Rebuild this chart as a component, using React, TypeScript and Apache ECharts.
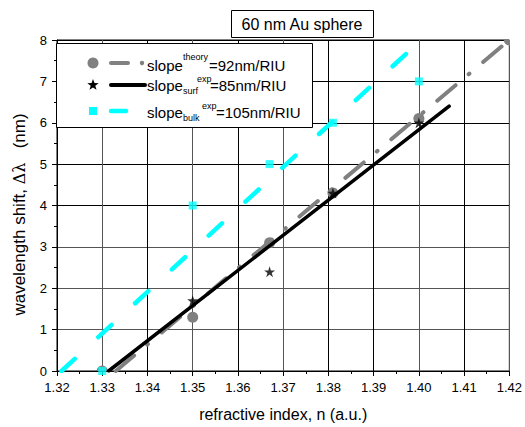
import React, { useEffect, useRef } from "react";
import * as echarts from "echarts";

// ---- data ----
const xTicks = ["1.32", "1.33", "1.34", "1.35", "1.36", "1.37", "1.38", "1.39", "1.40", "1.41", "1.42"];
const theoryN = [1.33, 1.35, 1.367, 1.381, 1.4, 1.42];
const theoryShift = [0, 1.3, 3.1, 4.3, 6.1, 8.0];
const surfN = [1.35, 1.367, 1.381, 1.4];
const surfShift = [1.7, 2.4, 4.3, 6.0];
const bulkN = [1.33, 1.35, 1.367, 1.381, 1.4];
const bulkShift = [0, 4.0, 5.0, 6.0, 7.0];
const theoryFitN = [1.333, 1.42];
const theoryFitShift = [0, 8.0];
const surfFitN = [1.3314, 1.4067];
const surfFitShift = [0, 6.4];
const bulkFitN = [1.321, 1.4005];
const bulkFitShift = [0, 8.0];

const FONT = '"Liberation Sans", Arial, sans-serif';
const GRAY = "#808080";
const CYAN = "#00FFFF";
const STAR = "path://M50,0 L61.2,34.5 L97.6,34.5 L68.2,55.9 L79.4,90.5 L50,69.1 L20.6,90.5 L31.8,55.9 L2.4,34.5 L38.8,34.5 Z";

const zip = (a: number[], b: number[]) => a.map((v, i) => [v, b[i]]);

function starPoints(cx: number, cy: number, r: number): number[][] {
  const pts: number[][] = [];
  for (let i = 0; i < 10; i++) {
    const rr = i % 2 === 0 ? r : r * 0.4;
    const a = -Math.PI / 2 + (i * Math.PI) / 5;
    pts.push([cx + rr * Math.cos(a), cy + rr * Math.sin(a)]);
  }
  return pts;
}

export default function App() {
  const ref = useRef<HTMLDivElement>(null);
  useEffect(() => {
    if (!ref.current) return;
    const chart = echarts.init(ref.current, null, { renderer: "svg" });
    const G = "#555";
    const xGridColors = ["#000", G, "#000", G, "#000", G, "#000", "#000", G, "#000", G];
    const yGridColors = ["#000", G, G, G, "#000", "#000", "#000", "#000", "#000"];
    const txt = (text: string, x: number, y: number, size: number) => ({
      type: "text",
      x,
      y,
      z: 102,
      style: {
        text,
        fill: "#000",
        font: `${size}px ${FONT}`,
        textAlign: "left",
        verticalAlign: "middle",
        textVerticalAlign: "middle",
      },
    });
    const option: any = {
      animation: false,
      backgroundColor: "#fff",
      grid: { left: 57, right: 14, top: 40, bottom: 52, show: true, borderColor: "#000", borderWidth: 1, backgroundColor: "transparent" },
      xAxis: {
        type: "value",
        min: 1.32,
        max: 1.42,
        interval: 0.01,
        name: "refractive index, n (a.u.)",
        nameLocation: "middle",
        nameGap: 35,
        nameTextStyle: { fontFamily: FONT, fontSize: 16, color: "#000" },
        axisLine: { show: true, lineStyle: { color: "#000", width: 1 } },
        axisTick: { show: true, length: 5, lineStyle: { color: "#000" } },
        minorTick: { show: true, splitNumber: 2, length: 3, lineStyle: { color: "#000" } },
        axisLabel: {
          fontFamily: FONT,
          fontSize: 13,
          color: "#000",
          margin: 10,
          formatter: (v: number) => xTicks[Math.round((v - 1.32) / 0.01)] ?? v.toFixed(2),
        },
        splitLine: { show: true, lineStyle: { color: xGridColors, width: 1 } },
      },
      yAxis: {
        type: "value",
        min: 0,
        max: 8,
        interval: 1,
        name: "wavelength shift, {g|Δλ}   (nm)",
        nameLocation: "middle",
        nameGap: 29,
        nameTextStyle: {
          fontFamily: FONT,
          fontSize: 17,
          color: "#000",
          padding: [0, 18, 0, 0],
          rich: { g: { fontFamily: '"DejaVu Serif", serif', fontSize: 16, color: "#000" } },
        },
        axisLine: { show: true, lineStyle: { color: "#000", width: 1 } },
        axisTick: { show: true, length: 5, lineStyle: { color: "#000" } },
        minorTick: { show: true, splitNumber: 2, length: 3, lineStyle: { color: "#000" } },
        axisLabel: { fontFamily: FONT, fontSize: 13, color: "#000", margin: 10 },
        splitLine: { show: true, lineStyle: { color: yGridColors, width: 1 } },
      },
      series: [
        {
          type: "custom",
          data: zip(theoryN, theoryShift),
          encode: { x: 0, y: 1 },
          clip: true,
          z: 2,
          renderItem: (_params: any, api: any) => {
            const p = api.coord([api.value(0), api.value(1)]);
            return { type: "circle", shape: { cx: p[0], cy: p[1], r: 5.5 }, style: { fill: GRAY } };
          },
        },
        {
          type: "line",
          data: zip(theoryFitN, theoryFitShift),
          showSymbol: false,
          symbol: "none",
          lineStyle: { color: GRAY, width: 4, type: [24, 17, 1, 18], cap: "round" },
          clip: true,
          z: 3,
        },
        {
          type: "line",
          data: zip(surfFitN, surfFitShift),
          showSymbol: false,
          symbol: "none",
          lineStyle: { color: "#000", width: 3.5, cap: "round" },
          clip: true,
          z: 4,
        },
        {
          type: "line",
          data: zip(bulkFitN, bulkFitShift),
          showSymbol: false,
          symbol: "none",
          lineStyle: { color: CYAN, width: 4.5, type: [18, 32], cap: "round" },
          clip: true,
          z: 5,
        },
        {
          type: "scatter",
          data: zip(bulkN, bulkShift),
          symbol: "rect",
          symbolSize: 8,
          itemStyle: { color: CYAN },
          clip: true,
          z: 6,
        },
        {
          type: "scatter",
          data: zip(surfN, surfShift),
          symbol: STAR,
          symbolSize: 11,
          itemStyle: { color: "#000" },
          clip: true,
          z: 7,
        },
      ],
      graphic: [
        // title box
        { type: "rect", z: 100, shape: { x: 231.5, y: 10.5, width: 142, height: 27 }, style: { fill: "#fff", stroke: "#000", lineWidth: 1 } },
        {
          type: "text",
          z: 101,
          x: 302,
          y: 24,
          style: { text: "60 nm Au sphere", fill: "#000", font: `16px ${FONT}`, textAlign: "center", verticalAlign: "middle", textVerticalAlign: "middle" },
        },
        // legend box
        { type: "rect", z: 100, shape: { x: 56.5, y: 43.5, width: 256, height: 84 }, style: { fill: "#fff", stroke: "#000", lineWidth: 1 } },
        { type: "circle", z: 101, shape: { cx: 93, cy: 63, r: 5.5 }, style: { fill: GRAY } },
        { type: "line", z: 101, shape: { x1: 111, y1: 63, x2: 128, y2: 63 }, style: { stroke: GRAY, lineWidth: 4, lineCap: "round" } },
        { type: "circle", z: 101, shape: { cx: 142, cy: 63, r: 2.2 }, style: { fill: GRAY } },
        { type: "polygon", z: 101, shape: { points: starPoints(93, 85, 6) }, style: { fill: "#000" } },
        { type: "line", z: 101, shape: { x1: 111, y1: 85, x2: 145, y2: 85 }, style: { stroke: "#000", lineWidth: 4, lineCap: "round" } },
        { type: "rect", z: 101, shape: { x: 89, y: 107, width: 8, height: 8 }, style: { fill: CYAN } },
        { type: "line", z: 101, shape: { x1: 111, y1: 111, x2: 126, y2: 111 }, style: { stroke: CYAN, lineWidth: 4.5, lineCap: "round" } },
        // legend texts
        txt("slope", 147, 65, 15),
        txt("theory", 183, 57, 9),
        txt("=92nm/RIU", 209, 65, 15),
        txt("slope", 147, 85, 15),
        txt("surf", 183, 91, 9),
        txt("exp", 197, 79, 9),
        txt("=85nm/RIU", 210, 85, 15),
        txt("slope", 147, 112, 15),
        txt("bulk", 183, 118, 9),
        txt("exp", 202, 106, 9),
        txt("=105nm/RIU", 216, 112, 15),
      ],
    };
    chart.setOption(option);
    return () => chart.dispose();
  }, []);
  return <div ref={ref} style={{ position: "fixed", left: 0, top: 0, width: 525, height: 427 }} />;
}
